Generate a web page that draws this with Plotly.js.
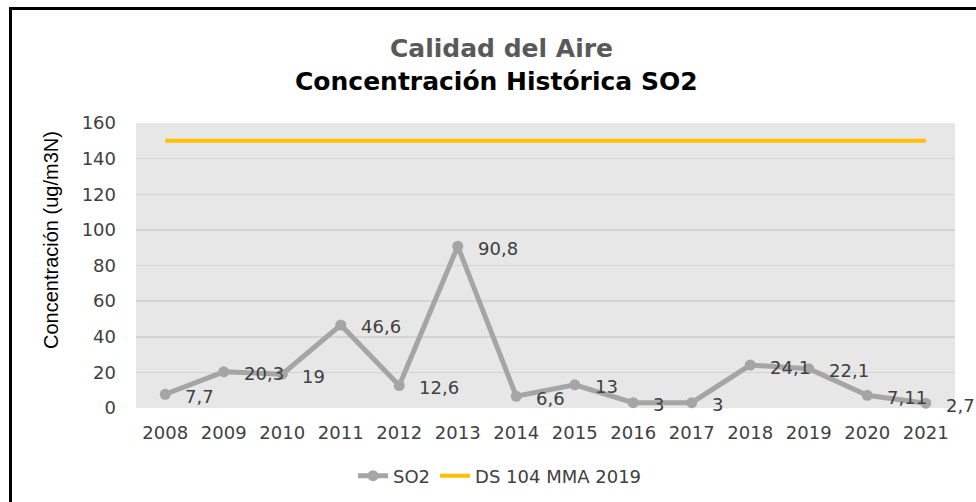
<!DOCTYPE html>
<html>
<head>
<meta charset="utf-8">
<script src="https://cdn.plot.ly/plotly-3.0.1.min.js"></script>
<style>
html,body{margin:0;padding:0;background:#fff;}
#wrap{position:relative;width:976px;height:502px;overflow:hidden;}
#chart{width:976px;height:502px;}
#frame{position:absolute;left:9px;top:7px;width:980px;height:510px;border-left:3px solid #000;border-top:3px solid #000;pointer-events:none;}
</style>
</head>
<body>
<div id="wrap"><div id="chart"></div><div id="frame"></div></div>
<script>
var years = ["2008","2009","2010","2011","2012","2013","2014","2015","2016","2017","2018","2019","2020","2021"];
var so2 = [7.7, 20.3, 19, 46.6, 12.6, 90.8, 6.6, 13, 3, 3, 24.1, 22.1, 7.11, 2.7];
var norma = [150,150,150,150,150,150,150,150,150,150,150,150,150,150];
var so2Labels = ["7,7","20,3","19","46,6","12,6","90,8","6,6","13","3","3","24,1","22,1","7,11","2,7"];
var seriesNames = ["SO2", "DS 104 MMA 2019"];
var titleLine1 = "Calidad del Aire";
var titleLine2 = "Concentración Histórica SO2";
var yTitle = "Concentración (ug/m3N)";
var yTicks = [0,20,40,60,80,100,120,140,160];

var FONT = "DejaVu Sans, sans-serif";
var L = 136, R = 955, T = 123, B = 408;
function px2x(p){ return (p - L) / (R - L); }
function px2y(p){ return (B - p) / (B - T); }

var traces = [
  {x: years, y: so2, name: seriesNames[0], type: "scatter", mode: "lines+markers",
   line: {color: "#A5A5A5", width: 5}, marker: {color: "#A5A5A5", size: 11}, cliponaxis:false},
  {x: years, y: norma, name: seriesNames[1], type: "scatter", mode: "lines",
   line: {color: "#FFC000", width: 4}}
];

var annotations = [];
for (var i = 0; i < years.length; i++) {
  annotations.push({x: i, y: so2[i], xref: "x", yref: "y", text: so2Labels[i],
    showarrow: false, xanchor: "left", yanchor: "middle", xshift: 18, yshift: -2,
    font: {family: FONT, size: 18, color: "#404040"}});
}
annotations.push({xref: "paper", yref: "paper", x: px2x(51), y: px2y(240),
  text: yTitle, textangle: -90, showarrow: false, xanchor: "center", yanchor: "middle",
  font: {family: "Liberation Sans, sans-serif", size: 20, color: "#000"}});
annotations.push({xref: "paper", yref: "paper", x: px2x(501), y: px2y(48),
  text: "<b>" + titleLine1 + "</b>", showarrow: false, xanchor: "center", yanchor: "middle",
  font: {family: FONT, size: 25, color: "#595959"}});
annotations.push({xref: "paper", yref: "paper", x: px2x(496), y: px2y(81),
  text: "<b>" + titleLine2 + "</b>", showarrow: false, xanchor: "center", yanchor: "middle",
  font: {family: FONT, size: 25, color: "#000"}});

var layout = {
  width: 976, height: 502,
  margin: {l: L, r: 976 - R, t: T, b: 502 - B, autoexpand: false},
  paper_bgcolor: "#fff", plot_bgcolor: "#E7E7E7",
  font: {family: FONT, size: 18, color: "#404040"},
  showlegend: true,
  legend: {orientation: "h", x: px2x(500), y: px2y(476),
           xanchor: "center", yanchor: "middle", font: {family: FONT, size: 18, color: "#404040"}},
  xaxis: {type: "category", range: [-0.5, 13.5], showgrid: false, zeroline: false,
          showline: false, ticks: "", ticklabelstandoff: 12,
          tickfont: {family: FONT, size: 18, color: "#404040"}},
  yaxis: {range: [0, 160], tickvals: yTicks, showgrid: true, gridcolor: "#D4D4D4", gridwidth: 1.5,
          zeroline: false, showline: false, ticks: "", ticklabelstandoff: 19,
          tickfont: {family: FONT, size: 18, color: "#404040"}},
  annotations: annotations
};

Plotly.newPlot("chart", traces, layout, {displayModeBar: false, staticPlot: true});
</script>
</body>
</html>
